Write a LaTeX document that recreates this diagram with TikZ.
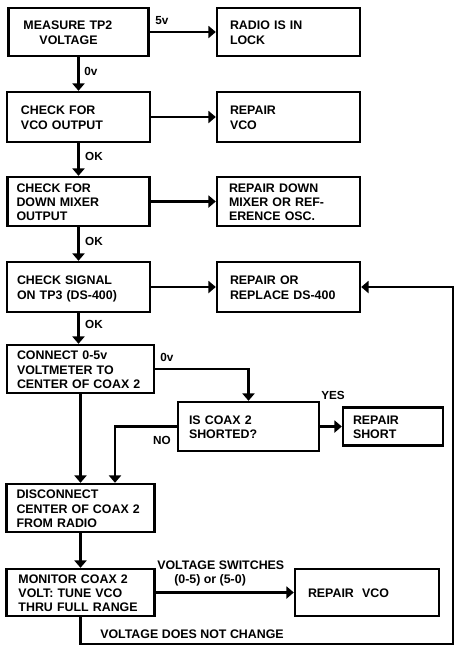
\documentclass[tikz,border=0pt]{standalone}
\usepackage{fontspec}
\setmainfont{Liberation Sans}
\usetikzlibrary{arrows.meta}
\newcommand{\boxlines}[1]{\raisebox{-1.6pt}[\height][\depth]{\begin{tabular}{@{}l@{}}#1\end{tabular}}}
\begin{document}
\begin{tikzpicture}[x=0.75pt,y=-0.75pt,
  box/.style={draw, line width=1.8pt, align=left, inner ysep=0pt,
    font=\bfseries\fontsize{9.3}{10.8}\selectfont},
  lbl/.style={font=\bfseries\fontsize{8.8}{10.5}\selectfont, inner sep=0pt},
  conn/.style={line width=1.8pt, -{Triangle[length=5.5pt,width=9pt]}},
  wire/.style={line width=1.8pt}]
\useasboundingbox (0,0) rectangle (468,662);

% left column
\node[box, minimum height=36pt, text width=82.5pt, inner xsep=11.25pt] (b1) at (78.5,32)
  {\boxlines{MEASURE TP2\\\hspace*{12pt}VOLTAGE}};
\node[box, minimum height=37.5pt, text width=86.25pt, inner xsep=10.5pt] (b3) at (78.5,117)
  {\boxlines{CHECK FOR\\VCO OUTPUT}};
\node[box, minimum height=36.75pt, text width=93pt, inner xsep=6.75pt] (b5) at (78.5,201.5)
  {\boxlines{CHECK FOR\\DOWN MIXER\\OUTPUT}};
\node[box, minimum height=37.5pt, text width=92.25pt, inner xsep=7.5pt] (b7) at (78.5,287)
  {\boxlines{CHECK SIGNAL\\ON TP3 (DS-400)}};
\node[box, minimum height=36pt, text width=95.25pt, inner xsep=7.5pt] (b9) at (80.5,369)
  {\boxlines{CONNECT 0-5v\\VOLTMETER TO\\CENTER OF COAX 2}};
\node[box, minimum height=36pt, text width=96pt, inner xsep=7.5pt] (b12) at (80.5,508)
  {\boxlines{DISCONNECT\\CENTER OF COAX 2\\FROM RADIO}};
\node[box, minimum height=35.25pt, text width=93pt, inner xsep=9pt] (b13) at (80.5,592.5)
  {\boxlines{MONITOR COAX 2\\VOLT: TUNE VCO\\THRU FULL RANGE}};

% right column
\node[box, minimum height=36pt, text width=87.75pt, inner xsep=9.75pt] (b2) at (288.5,32)
  {\boxlines{RADIO IS IN\\LOCK}};
\node[box, minimum height=37.5pt, text width=87.75pt, inner xsep=9.75pt] (b4) at (288.5,117)
  {\boxlines{REPAIR\\VCO}};
\node[box, minimum height=36.75pt, text width=89.25pt, inner xsep=9pt] (b6) at (288.5,201.5)
  {\boxlines{REPAIR DOWN\\MIXER OR REF-\\ERENCE OSC.}};
\node[box, minimum height=37.5pt, text width=87.75pt, inner xsep=9.75pt] (b8) at (288.5,287)
  {\boxlines{REPAIR OR\\REPLACE DS-400}};
\node[box, minimum height=36.75pt, text width=89.25pt, inner xsep=8.25pt] (b10) at (248.5,426.5)
  {\boxlines{IS COAX 2\\SHORTED?}};
\node[box, minimum height=28.5pt, text width=60pt, inner xsep=7.5pt] (b11) at (393,426.5)
  {\boxlines{REPAIR\\SHORT}};
\node[box, minimum height=35.25pt, text width=88.5pt, inner xsep=9.75pt] (b14) at (367,592.5)
  {\boxlines{REPAIR~~VCO}};

% connectors
\draw[conn] (b1.east) -- (b2.west);
\draw[conn] (b1.south) -- (b3.north);
\draw[conn] (b3.east) -- (b4.west);
\draw[conn] (b3.south) -- (b5.north);
\draw[conn] (b5.east) -- (b6.west);
\draw[conn] (b5.south) -- (b7.north);
\draw[conn] (b7.east) -- (b8.west);
\draw[conn] (b7.south) -- (b7.south |- b9.north);
\draw[conn] (b9.east) -| (b10.north);
\draw[conn] (b10.east) -- (b11.west);
\coordinate (nocorner) at (115,426.5);
\draw[conn] (b10.west) -- (nocorner) -- (nocorner |- b12.north);
\draw[conn] (b9.south) -- (b12.north);
\draw[conn] (b12.south) -- (b13.north);
\draw[conn] (b13.east) -- (b14.west);
\coordinate (bl) at (80.5,644);
\coordinate (br) at (453,644);
\draw[conn] (b13.south) -- (bl) -- (br) -- (br |- b8.east) -- (b8.east);

% labels
\node[lbl] (l5v) at (162,21) {5v};
\node[lbl] (l0va) at (91,71.5) {0v};
\node[lbl] (lok1) at (94,156) {OK};
\node[lbl] (lok2) at (94,241) {OK};
\node[lbl] (lok3) at (94,324) {OK};
\node[lbl] (l0vb) at (167,357) {0v};
\node[lbl] (lno) at (162,440) {NO};
\node[lbl] (lyes) at (333,395) {YES};
\node[lbl, align=left, anchor=west, font=\bfseries\fontsize{9.3}{11}\selectfont] (lsw) at (157,573.5)
  {VOLTAGE SWITCHES\\\hspace*{12.75pt}(0-5) or (5-0)};
\node[lbl, font=\bfseries\fontsize{9.3}{11}\selectfont] (lnc) at (192,634) {VOLTAGE DOES NOT CHANGE};
\end{tikzpicture}
\end{document}
